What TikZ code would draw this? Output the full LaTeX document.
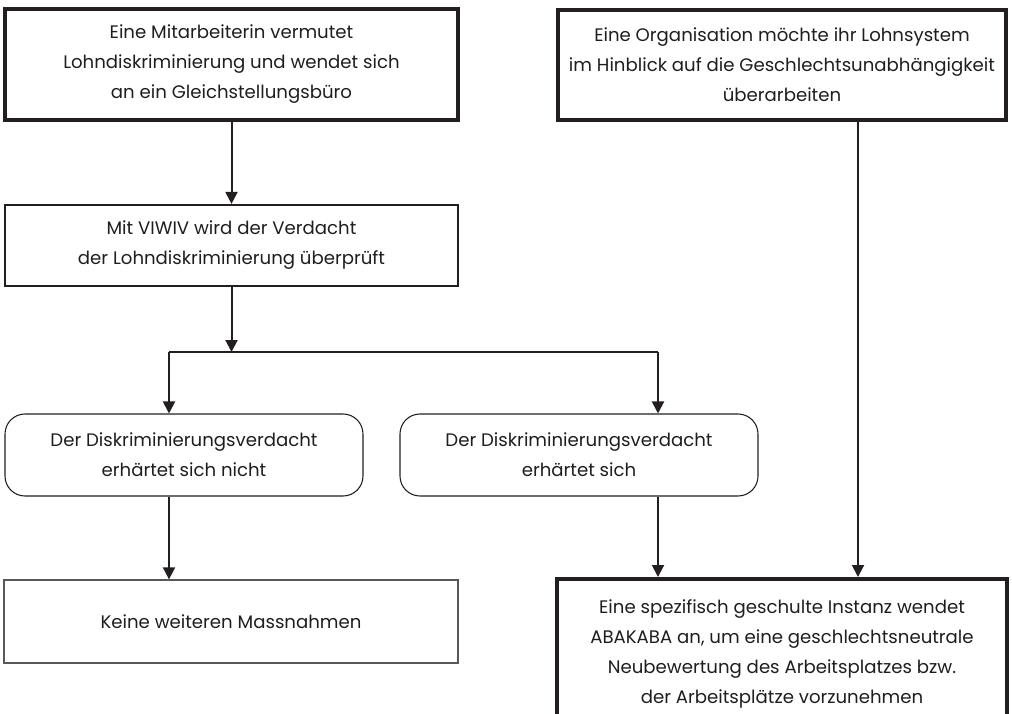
\documentclass[tikz,border=0pt]{standalone}
\usepackage{fontspec}
\setmainfont{Poppins}
\usetikzlibrary{arrows.meta}
\definecolor{ink}{HTML}{231F20}
\definecolor{txt}{HTML}{1E1E1E}
\begin{document}
\begin{tikzpicture}[x=0.75pt,y=-0.75pt,
  box/.style={draw=ink, align=center, inner sep=0pt, text=txt,
    font=\fontsize{13.6}{22.5}\selectfont},
  thickbox/.style={box, line width=3pt},
  midbox/.style={box, line width=1.6pt},
  thinbox/.style={box, line width=1pt, draw=ink!75},
  roundbox/.style={box, line width=0.8pt, rounded corners=15pt},
  conn/.style={line width=1.5pt, draw=ink, -{Triangle[width=9pt,length=9pt]}},
  plain/.style={line width=1.5pt, draw=ink}]
\path[use as bounding box] (0,0) rectangle (1012,713);
\clip (0,0) rectangle (1012,713);
\node[thickbox, minimum width=339.75pt, minimum height=83.25pt] (b1) at (231.5,64.5)
  {Eine Mitarbeiterin vermutet\\Lohndiskriminierung und wendet sich\\an ein Gleichstellungsbüro};
\node[thickbox, minimum width=336pt, minimum height=82.5pt] (b2) at (782,65)
  {Eine Organisation möchte ihr Lohnsystem\\im Hinblick auf die Geschlechtsunabhängigkeit\\überarbeiten};
\node[midbox, minimum width=339.75pt, minimum height=60.75pt] (b3) at (231.5,245.5)
  {Mit VIWIV wird der Verdacht\\der Lohndiskriminierung überprüft};
\node[roundbox, minimum width=268.5pt, minimum height=61.5pt] (r1) at (184,455)
  {Der Diskriminierungsverdacht\\erhärtet sich nicht};
\node[roundbox, minimum width=268.5pt, minimum height=61.5pt] (r2) at (579,455)
  {Der Diskriminierungsverdacht\\erhärtet sich};
\node[thinbox, minimum width=340.5pt, minimum height=62.25pt] (b4) at (231,621.5)
  {Keine weiteren Massnahmen};
\node[thickbox, minimum width=337.5pt, minimum height=111.75pt] (b5) at (782,653.5)
  {Eine spezifisch geschulte Instanz wendet\\ABAKABA an, um eine geschlechtsneutrale\\Neubewertung des Arbeitsplatzes bzw.\\der Arbeitsplätze vorzunehmen};
\coordinate (j) at (231.5,352);
\coordinate (ja) at (169,352);
\coordinate (jb) at (658,352);
\coordinate (k) at (858,0);
\draw[conn] (b1.south) -- (b3.north);
\draw[conn] (b3.south) -- (j);
\draw[plain] (ja) -- (jb);
\draw[conn] (ja) -- (ja |- r1.north);
\draw[conn] (jb) -- (jb |- r2.north);
\draw[conn] (r1.south -| ja) -- (b4.north -| ja);
\draw[conn] (r2.south -| jb) -- (b5.north -| jb);
\draw[conn] (b2.south -| k) -- (b5.north -| k);
\end{tikzpicture}
\end{document}
